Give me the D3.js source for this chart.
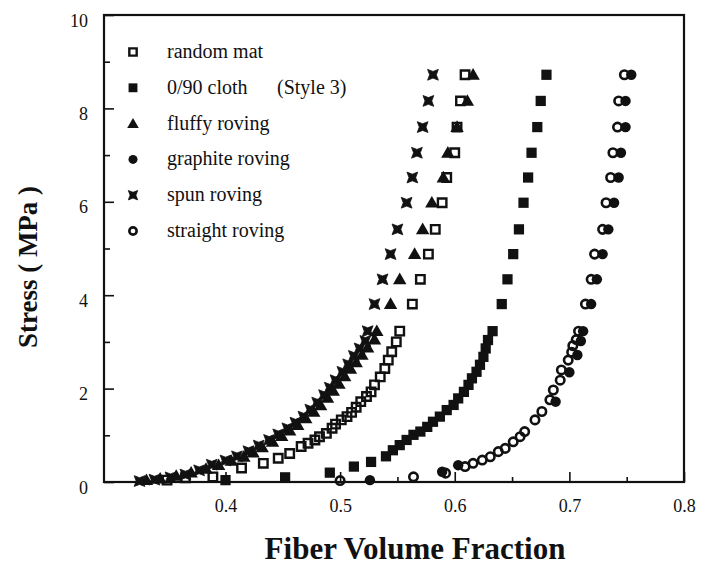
<!DOCTYPE html>
<html>
<head>
<meta charset="utf-8">
<script src="https://cdn.jsdelivr.net/npm/d3@7/dist/d3.min.js"></script>
<style>
  body { margin: 0; background: #fff; }
  svg { display: block; }
  text { font-family: "Liberation Serif", "DejaVu Serif", serif; fill: #111; }
</style>
</head>
<body>
<svg id="chart" width="704" height="565"></svg>
<script>
// values: [fiber volume fraction, stress MPa]
let randomMat = [
  [0.609, 8.72], [0.605, 8.16], [0.602, 7.60], [0.600, 7.05], [0.593, 6.52], [0.589, 5.98],
  [0.583, 5.41], [0.577, 4.88], [0.570, 4.34], [0.563, 3.81], [0.552, 3.23],
  [0.549, 3.00], [0.545, 2.79], [0.542, 2.61], [0.539, 2.43], [0.535, 2.25], [0.530, 2.08],
  [0.527, 1.93], [0.523, 1.83], [0.518, 1.72], [0.514, 1.60], [0.510, 1.49], [0.506, 1.40],
  [0.501, 1.33], [0.496, 1.24], [0.493, 1.15], [0.488, 1.04], [0.482, 0.97], [0.478, 0.90],
  [0.472, 0.83], [0.466, 0.76], [0.456, 0.61], [0.446, 0.51], [0.433, 0.40], [0.414, 0.30],
  [0.389, 0.11], [0.365, 0.09], [0.349, 0.04]
];
let cloth090 = [
  [0.680, 8.72], [0.675, 8.16], [0.672, 7.60], [0.667, 7.05], [0.664, 6.52], [0.660, 5.98],
  [0.656, 5.41], [0.651, 4.88], [0.646, 4.34], [0.641, 3.81], [0.633, 3.23],
  [0.629, 3.04], [0.627, 2.86], [0.625, 2.68], [0.622, 2.51], [0.619, 2.36], [0.615, 2.22],
  [0.612, 2.08], [0.608, 1.93], [0.603, 1.79], [0.599, 1.65], [0.593, 1.54], [0.587, 1.40],
  [0.581, 1.29], [0.576, 1.18], [0.570, 1.08], [0.564, 1.01], [0.558, 0.90], [0.552, 0.79],
  [0.546, 0.68], [0.540, 0.55], [0.527, 0.43], [0.512, 0.33], [0.491, 0.20], [0.452, 0.10],
  [0.400, 0.04]
];
let fluffyRoving = [
  [0.616, 8.72], [0.611, 8.16], [0.602, 7.60], [0.594, 7.05], [0.590, 6.52], [0.580, 5.98],
  [0.572, 5.41], [0.565, 4.88], [0.552, 4.34], [0.544, 3.81], [0.532, 3.23],
  [0.530, 3.05], [0.524, 2.88], [0.519, 2.72], [0.514, 2.56], [0.509, 2.42], [0.504, 2.26],
  [0.499, 2.10], [0.494, 1.95], [0.489, 1.80], [0.483, 1.64], [0.477, 1.50], [0.470, 1.36],
  [0.463, 1.22], [0.456, 1.10], [0.449, 0.98], [0.441, 0.86], [0.432, 0.74], [0.424, 0.63],
  [0.416, 0.54], [0.405, 0.45], [0.394, 0.36], [0.383, 0.28], [0.370, 0.20], [0.357, 0.13],
  [0.343, 0.07], [0.331, 0.04]
];
let graphiteRoving = [
  [0.754, 8.72], [0.749, 8.16], [0.749, 7.60], [0.745, 7.05], [0.743, 6.52], [0.739, 5.98],
  [0.734, 5.41], [0.729, 4.88], [0.724, 4.34], [0.719, 3.81], [0.712, 3.23],
  [0.710, 3.02], [0.707, 2.72], [0.700, 2.35], [0.688, 1.72], [0.603, 0.36], [0.589, 0.22],
  [0.526, 0.04]
];
let spunRoving = [
  [0.581, 8.72], [0.577, 8.16], [0.572, 7.60], [0.567, 7.05], [0.563, 6.52], [0.558, 5.98],
  [0.550, 5.41], [0.544, 4.88], [0.537, 4.34], [0.530, 3.81], [0.524, 3.23],
  [0.522, 3.02], [0.517, 2.86], [0.512, 2.70], [0.507, 2.52], [0.502, 2.36], [0.496, 2.18],
  [0.491, 2.02], [0.486, 1.86], [0.480, 1.70], [0.474, 1.55], [0.468, 1.40], [0.461, 1.27],
  [0.454, 1.15], [0.446, 1.02], [0.438, 0.90], [0.429, 0.78], [0.420, 0.66], [0.410, 0.55],
  [0.400, 0.46], [0.388, 0.37], [0.377, 0.25], [0.365, 0.16], [0.352, 0.10], [0.338, 0.05],
  [0.325, 0.02]
];
let straightRoving = [
  [0.748, 8.72], [0.743, 8.16], [0.742, 7.60], [0.738, 7.05], [0.736, 6.52], [0.732, 5.98],
  [0.729, 5.41], [0.722, 4.88], [0.719, 4.34], [0.714, 3.81], [0.708, 3.23],
  [0.706, 3.05], [0.703, 2.92], [0.702, 2.78], [0.699, 2.61], [0.693, 2.40], [0.692, 2.18],
  [0.686, 1.97], [0.683, 1.76], [0.676, 1.51], [0.670, 1.33], [0.661, 1.08], [0.657, 0.97],
  [0.651, 0.86], [0.644, 0.72], [0.638, 0.65], [0.631, 0.54], [0.624, 0.47], [0.616, 0.40],
  [0.609, 0.33], [0.592, 0.19], [0.564, 0.11], [0.500, 0.03]
];

let legendNames = ['random mat', '0/90 cloth', 'fluffy roving', 'graphite roving', 'spun roving', 'straight roving'];
let legendKinds = ['squareOpen', 'square', 'triangle', 'circle', 'spun', 'circleOpen'];
let xTicks = [0.4, 0.5, 0.6, 0.7, 0.8];
let xMinorTicks = [0.35, 0.45, 0.55, 0.65, 0.75];
let yTicks = [0, 2, 4, 6, 8, 10];
let yMinorTicks = [1, 3, 5, 7, 9];

let svg = d3.select('#chart');
svg.append('rect').attr('width', 704).attr('height', 565).attr('fill', '#fff');

let plotLeft = 104, plotRight = 684, plotTop = 15, plotBottom = 482;

let x = d3.scaleLinear().domain([0.294, 0.8]).range([plotLeft, plotRight]);
let y = d3.scaleLinear().domain([0, 10]).range([plotBottom, plotTop]);

// axes, ticks pointing inward
let gx = svg.append('g').attr('transform', `translate(0,${plotBottom})`)
  .call(d3.axisBottom(x).tickValues(xTicks).tickFormat(d3.format('.1f')).tickSize(-10).tickPadding(17));
svg.append('g').attr('transform', `translate(0,${plotBottom})`)
  .call(d3.axisBottom(x).tickValues(xMinorTicks).tickFormat('').tickSize(-5));

let gy = svg.append('g').attr('transform', `translate(${plotLeft},0)`)
  .call(d3.axisLeft(y).tickValues(yTicks).tickSize(-10).tickPadding(16));
svg.append('g').attr('transform', `translate(${plotLeft},0)`)
  .call(d3.axisLeft(y).tickValues(yMinorTicks).tickFormat('').tickSize(-6));

svg.selectAll('.domain').remove();
svg.selectAll('.tick line').attr('stroke', '#111').attr('stroke-width', 1.6);
svg.selectAll('.tick text').style('font-size', '18px').attr('fill', '#111');
gy.selectAll('.tick text').attr('dy', '0.62em');

// frame
svg.append('rect')
  .attr('x', plotLeft).attr('y', plotTop)
  .attr('width', plotRight - plotLeft).attr('height', plotBottom - plotTop)
  .attr('fill', 'none').attr('stroke', '#111').attr('stroke-width', 2.2);

// markers
let sq = d3.symbol().type(d3.symbolSquare);
let tri = d3.symbol().type(d3.symbolTriangle);
let circ = d3.symbol().type(d3.symbolCircle);

// bow-tie shaped marker used for spun roving
function spunPath(s) {
  let k = 0.62;
  return `M${-s},${-s}L0,${-s * k}L${s},${-s}L${s * k},0L${s},${s}L0,${s * k}L${-s},${s}L${-s * k},0Z`;
}

function drawMarker(g, kind, scale) {
  if (kind === 'squareOpen') {
    g.append('path').attr('d', sq.size(72 * scale)()).attr('fill', 'none').attr('stroke', '#111').attr('stroke-width', 2.4);
  } else if (kind === 'square') {
    g.append('path').attr('d', sq.size(105 * scale)()).attr('fill', '#111');
  } else if (kind === 'triangle') {
    g.append('path').attr('d', tri.size(78 * scale)()).attr('fill', '#111').attr('transform', 'translate(0,1)');
  } else if (kind === 'circle') {
    g.append('path').attr('d', circ.size(85 * scale)()).attr('fill', '#111');
  } else if (kind === 'circleOpen') {
    g.append('path').attr('d', circ.size(56 * scale)()).attr('fill', 'none').attr('stroke', '#111').attr('stroke-width', 2.6);
  } else if (kind === 'spun') {
    g.append('path').attr('d', spunPath(5.4 * Math.sqrt(scale))).attr('fill', '#111')
      .attr('stroke', '#111').attr('stroke-width', 0.8).attr('stroke-linejoin', 'round');
  }
}

function drawSeries(data, kind) {
  let g = svg.append('g');
  data.forEach(function(d) {
    let m = g.append('g').attr('transform', `translate(${x(d[0])},${y(d[1])})`);
    drawMarker(m, kind, 1);
  });
}

drawSeries(cloth090, 'square');
drawSeries(graphiteRoving, 'circle');
drawSeries(fluffyRoving, 'triangle');
drawSeries(spunRoving, 'spun');
drawSeries(randomMat, 'squareOpen');
drawSeries(straightRoving, 'circleOpen');

// legend
let legend = svg.append('g');
legendNames.forEach(function(name, i) {
  let ly = 52 + i * 35.8;
  let m = legend.append('g').attr('transform', `translate(133,${ly})`);
  drawMarker(m, legendKinds[i], 0.75);
  legend.append('text').attr('x', 167).attr('y', ly + 6).style('font-size', '20px').text(name);
});
legend.append('text').attr('x', 277).attr('y', 52 + 35.8 + 6).style('font-size', '20px').text('(Style 3)');

// axis titles
svg.append('text')
  .attr('x', 415).attr('y', 559)
  .attr('text-anchor', 'middle')
  .style('font-size', '31px').style('font-weight', 'bold')
  .text('Fiber Volume Fraction');

svg.append('text')
  .attr('transform', 'translate(37,267) rotate(-90)')
  .attr('text-anchor', 'middle')
  .style('font-size', '27px').style('font-weight', 'bold')
  .text('Stress ( MPa )');
</script>
</body>
</html>
